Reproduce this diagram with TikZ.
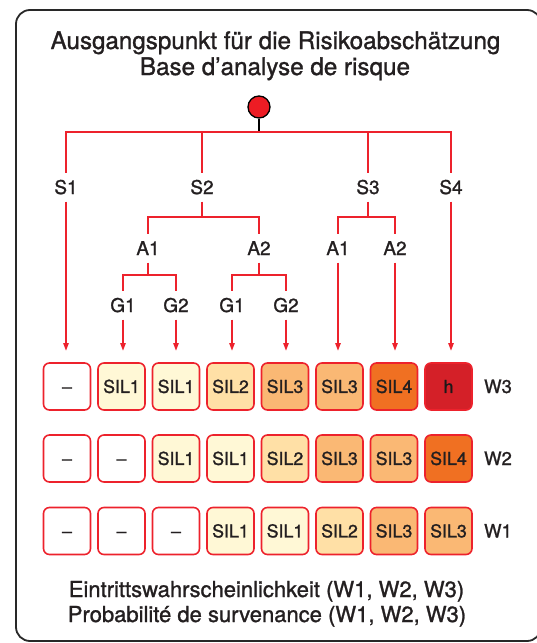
\documentclass[tikz,border=0pt]{standalone}
\usepackage{fontspec}
\setmainfont{TeX Gyre Heros}[FakeBold=1.2]
\usetikzlibrary{arrows.meta}

\definecolor{treered}{RGB}{237,34,44}
\definecolor{dotred}{RGB}{237,28,36}
\definecolor{ink}{RGB}{35,31,32}
\definecolor{frameink}{RGB}{40,40,40}
\definecolor{silA}{RGB}{255,248,214}
\definecolor{silB}{RGB}{255,224,166}
\definecolor{silC}{RGB}{250,184,116}
\definecolor{silD}{RGB}{240,112,34}
\definecolor{silH}{RGB}{212,32,40}

\begin{document}
\begin{tikzpicture}[x=1pt,y=-1pt,
  tree/.style={draw=treered, line width=2pt},
  arr/.style={tree, -{Triangle[length=8pt,width=5pt]}, shorten >=11pt},
  lbl/.style={text=ink, font=\fontsize{19}{20}\selectfont, anchor=base,
    text height=13.5pt, text depth=0pt, inner xsep=2pt, inner ysep=7.5pt},
  box/.style={draw=treered, line width=1.6pt, rounded corners=6pt,
    minimum width=47pt, minimum height=47pt, inner sep=0pt, text=ink,
    font=\fontsize{17.8}{18}\selectfont, text height=12.8pt, text depth=0pt},
  sil0/.style={fill=white},
  sil1/.style={fill=silA},
  sil2/.style={fill=silB},
  sil3/.style={fill=silC},
  sil4/.style={fill=silD},
  silh/.style={fill=silH, text=ink!80!black},
  rowlbl/.style={text=ink, font=\fontsize{18.5}{20}\selectfont,
    text height=13pt, text depth=0pt, inner sep=0pt},
  caption/.style={text=ink, anchor=base},
]
\useasboundingbox (0,0) rectangle (537,643);

% outer frame
\draw[frameink, line width=1.8pt, rounded corners=14pt] (16,10) rectangle (541,641);

% headings
\node[caption, font=\fontsize{24.2}{26}\selectfont] (head1) at (275.5,49) {Ausgangspunkt für die Risikoabschätzung};
\node[caption, font=\fontsize{24.2}{26}\selectfont] (head2) at (275,75) {Base d’analyse de risque};

% start point
\node[circle, draw=black, line width=1.3pt, fill=dotred, minimum size=22pt, inner sep=0pt] (root) at (259,107) {};
\coordinate (bar) at (259,132);

% severity level
\node[lbl] (S1) at (66,194) {S1};
\node[lbl] (S2) at (202,194) {S2};
\node[lbl] (S3) at (368,194) {S3};
\node[lbl] (S4) at (451,194) {S4};

% exposure level
\node[lbl] (A1a) at (148,255) {A1};
\node[lbl] (A2a) at (259,255) {A2};
\node[lbl] (A1b) at (338,255) {A1};
\node[lbl] (A2b) at (395,255) {A2};
\coordinate (abar) at (202,217);

% avoidance level
\node[lbl] (G1a) at (123,312) {G1};
\node[lbl] (G2a) at (176,312) {G2};
\node[lbl] (G1b) at (232,312) {G1};
\node[lbl] (G2b) at (286,312) {G2};
\coordinate (gbar) at (150,275);

% result boxes, one row per probability class
\foreach \t/\s [count=\i] in {\textendash/sil0, SIL1/sil1, SIL1/sil1, SIL2/sil2, SIL3/sil3, SIL3/sil3, SIL4/sil4, h/silh}
  \node[box,\s] (w3c\i) at ({67+(\i-1)*54.5},386.5) {\t};
\foreach \t/\s [count=\i] in {\textendash/sil0, \textendash/sil0, SIL1/sil1, SIL1/sil1, SIL2/sil2, SIL3/sil3, SIL3/sil3, SIL4/sil4}
  \node[box,\s] (w2c\i) at ({67+(\i-1)*54.5},458.5) {\t};
\foreach \t/\s [count=\i] in {\textendash/sil0, \textendash/sil0, \textendash/sil0, SIL1/sil1, SIL1/sil1, SIL2/sil2, SIL3/sil3, SIL3/sil3}
  \node[box,\s] (w1c\i) at ({67+(\i-1)*54.5},531) {\t};

\node[rowlbl] (W3) at (498,386.5) {W3};
\node[rowlbl] (W2) at (498,458.5) {W2};
\node[rowlbl] (W1) at (498,531) {W1};

% tree connectors
\draw[black, line width=1.3pt] (root.south) -- (bar);
\draw[tree] (S1.north) -- (S1.north |- bar) -- (S4.north |- bar) -- (S4.north);
\draw[tree] (S2.north) -- (S2.north |- bar);
\draw[tree] (S3.north) -- (S3.north |- bar);

\draw[tree] (S2.south) -- (S2.south |- abar);
\draw[tree] (A1a.north) -- (A1a.north |- abar) -- (A2a.north |- abar) -- (A2a.north);
\draw[tree] (S3.south) -- (S3.south |- abar);
\draw[tree] (A1b.north) -- (A1b.north |- abar) -- (A2b.north |- abar) -- (A2b.north);

\draw[tree] (A1a.south) -- (A1a.south |- gbar);
\draw[tree] (G1a.north) -- (G1a.north |- gbar) -- (G2a.north |- gbar) -- (G2a.north);
\draw[tree] (A2a.south) -- (A2a.south |- gbar);
\draw[tree] (G1b.north) -- (G1b.north |- gbar) -- (G2b.north |- gbar) -- (G2b.north);

% arrows into the top row
\draw[arr] (S1.south) -- (S1.south |- w3c1.north);
\draw[arr] (G1a.south) -- (G1a.south |- w3c2.north);
\draw[arr] (G2a.south) -- (G2a.south |- w3c3.north);
\draw[arr] (G1b.south) -- (G1b.south |- w3c4.north);
\draw[arr] (G2b.south) -- (G2b.south |- w3c5.north);
\draw[arr] (A1b.south) -- (A1b.south |- w3c6.north);
\draw[arr] (A2b.south) -- (A2b.south |- w3c7.north);
\draw[arr] (S4.south) -- (S4.south |- w3c8.north);

% legend
\node[caption, font=\fontsize{22}{24}\selectfont] (foot1) at (266.5,597) {Eintrittswahrscheinlichkeit (W1, W2, W3)};
\node[caption, font=\fontsize{22}{24}\selectfont] (foot2) at (267,622) {Probabilité de survenance (W1, W2, W3)};
\end{tikzpicture}
\end{document}
